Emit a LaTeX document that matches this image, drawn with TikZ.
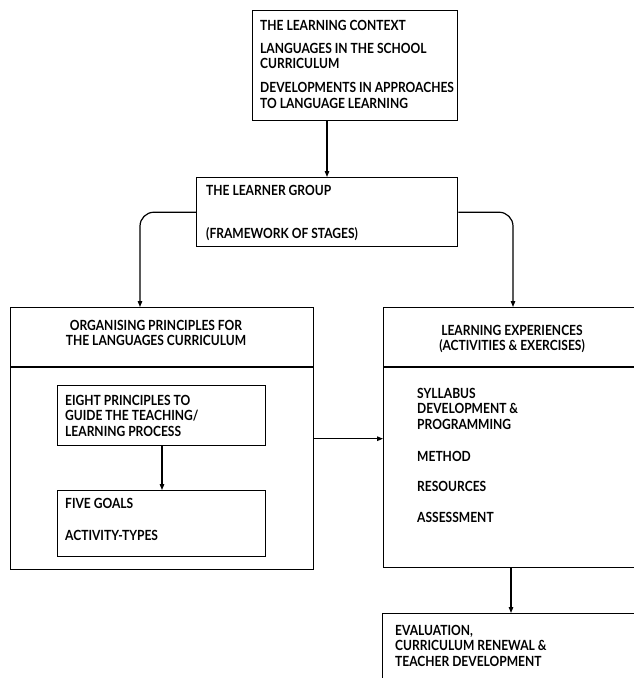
\documentclass[tikz,border=0pt]{standalone}
\usepackage{fontspec}
\newfontfamily\diagfont{Lato}[FakeStretch=0.86]
\usetikzlibrary{arrows.meta}
\begin{document}
\begin{tikzpicture}[x=1pt,y=-1pt,
  box/.style={draw, line width=1.4pt, rectangle, inner sep=0pt, anchor=north west},
  txt/.style={inner sep=0pt, anchor=north west, align=left, font=\diagfont\bfseries\fontsize{14}{15.3}\selectfont},
  ctxt/.style={inner sep=0pt, anchor=north, align=center, font=\diagfont\bfseries\fontsize{14}{15.3}\selectfont},
  conn/.style={line width=1.2pt, -{Triangle[length=6pt,width=4.5pt]}}]
\useasboundingbox (0,0) rectangle (634,678);
\clip (0,0) rectangle (634,678);
% boxes
\node[box, minimum width=205pt, minimum height=110pt] (ctx) at (252,10) {};
\node[box, minimum width=261pt, minimum height=69pt] (lg) at (196,177) {};
\node[box, minimum width=303pt, minimum height=262pt] (L) at (10,307) {};
\node[box, minimum width=300pt, minimum height=260pt] (R) at (383,307) {};
\node[box, minimum width=208pt, minimum height=60pt] (p8) at (57,385) {};
\node[box, minimum width=208pt, minimum height=66pt] (g5) at (57,490) {};
\node[box, minimum width=300pt, minimum height=120pt] (E) at (382,613) {};
% dividers
\draw[line width=1.4pt] (10,367) -- (313,367);
\draw[line width=1.4pt] (383,367) -- (683,367);
% texts
\node[txt] (t1) at (260,20) {THE LEARNING CONTEXT\\[7.5pt]LANGUAGES IN THE SCHOOL\\CURRICULUM\\[9pt]DEVELOPMENTS IN APPROACHES\\TO LANGUAGE LEARNING};
\node[txt] (t2) at (206,185) {THE LEARNER GROUP};
\node[txt] (t3) at (206,227) {(FRAMEWORK OF STAGES)};
\node[ctxt] (t4) at (156,320) {ORGANISING PRINCIPLES FOR\\THE LANGUAGES CURRICULUM};
\node[txt] (t5) at (65,395) {EIGHT PRINCIPLES TO\\GUIDE THE TEACHING/\\LEARNING PROCESS};
\node[txt] (t6) at (65,498) {FIVE GOALS};
\node[txt] (t7) at (65,530) {ACTIVITY-TYPES};
\node[ctxt] (t8) at (512,325) {LEARNING EXPERIENCES\\(ACTIVITIES \& EXERCISES)};
\node[txt] (t9) at (417,388) {SYLLABUS\\DEVELOPMENT \&\\PROGRAMMING\\[17pt]METHOD\\[15pt]RESOURCES\\[16pt]ASSESSMENT};
\node[txt] (t10) at (395,625) {EVALUATION,\\CURRICULUM RENEWAL \&\\TEACHER DEVELOPMENT};
% connectors
\coordinate (la) at (140,307);
\coordinate (ra) at (513,307);
\coordinate (rb) at (511,567);
\coordinate (eb) at (511,613);
\draw[conn] (ctx.south -| 327,0) -- (lg.north -| 327,0);
\draw[conn, rounded corners=14pt] (lg.west) -| (la);
\draw[conn, rounded corners=14pt] (lg.east) -| (ra);
\draw[conn] (p8.south -| 162,0) -- (g5.north -| 162,0);
\draw[conn] (L.east) -- (L.east -| R.west);
\draw[conn] (rb) -- (eb);
\end{tikzpicture}
\end{document}
